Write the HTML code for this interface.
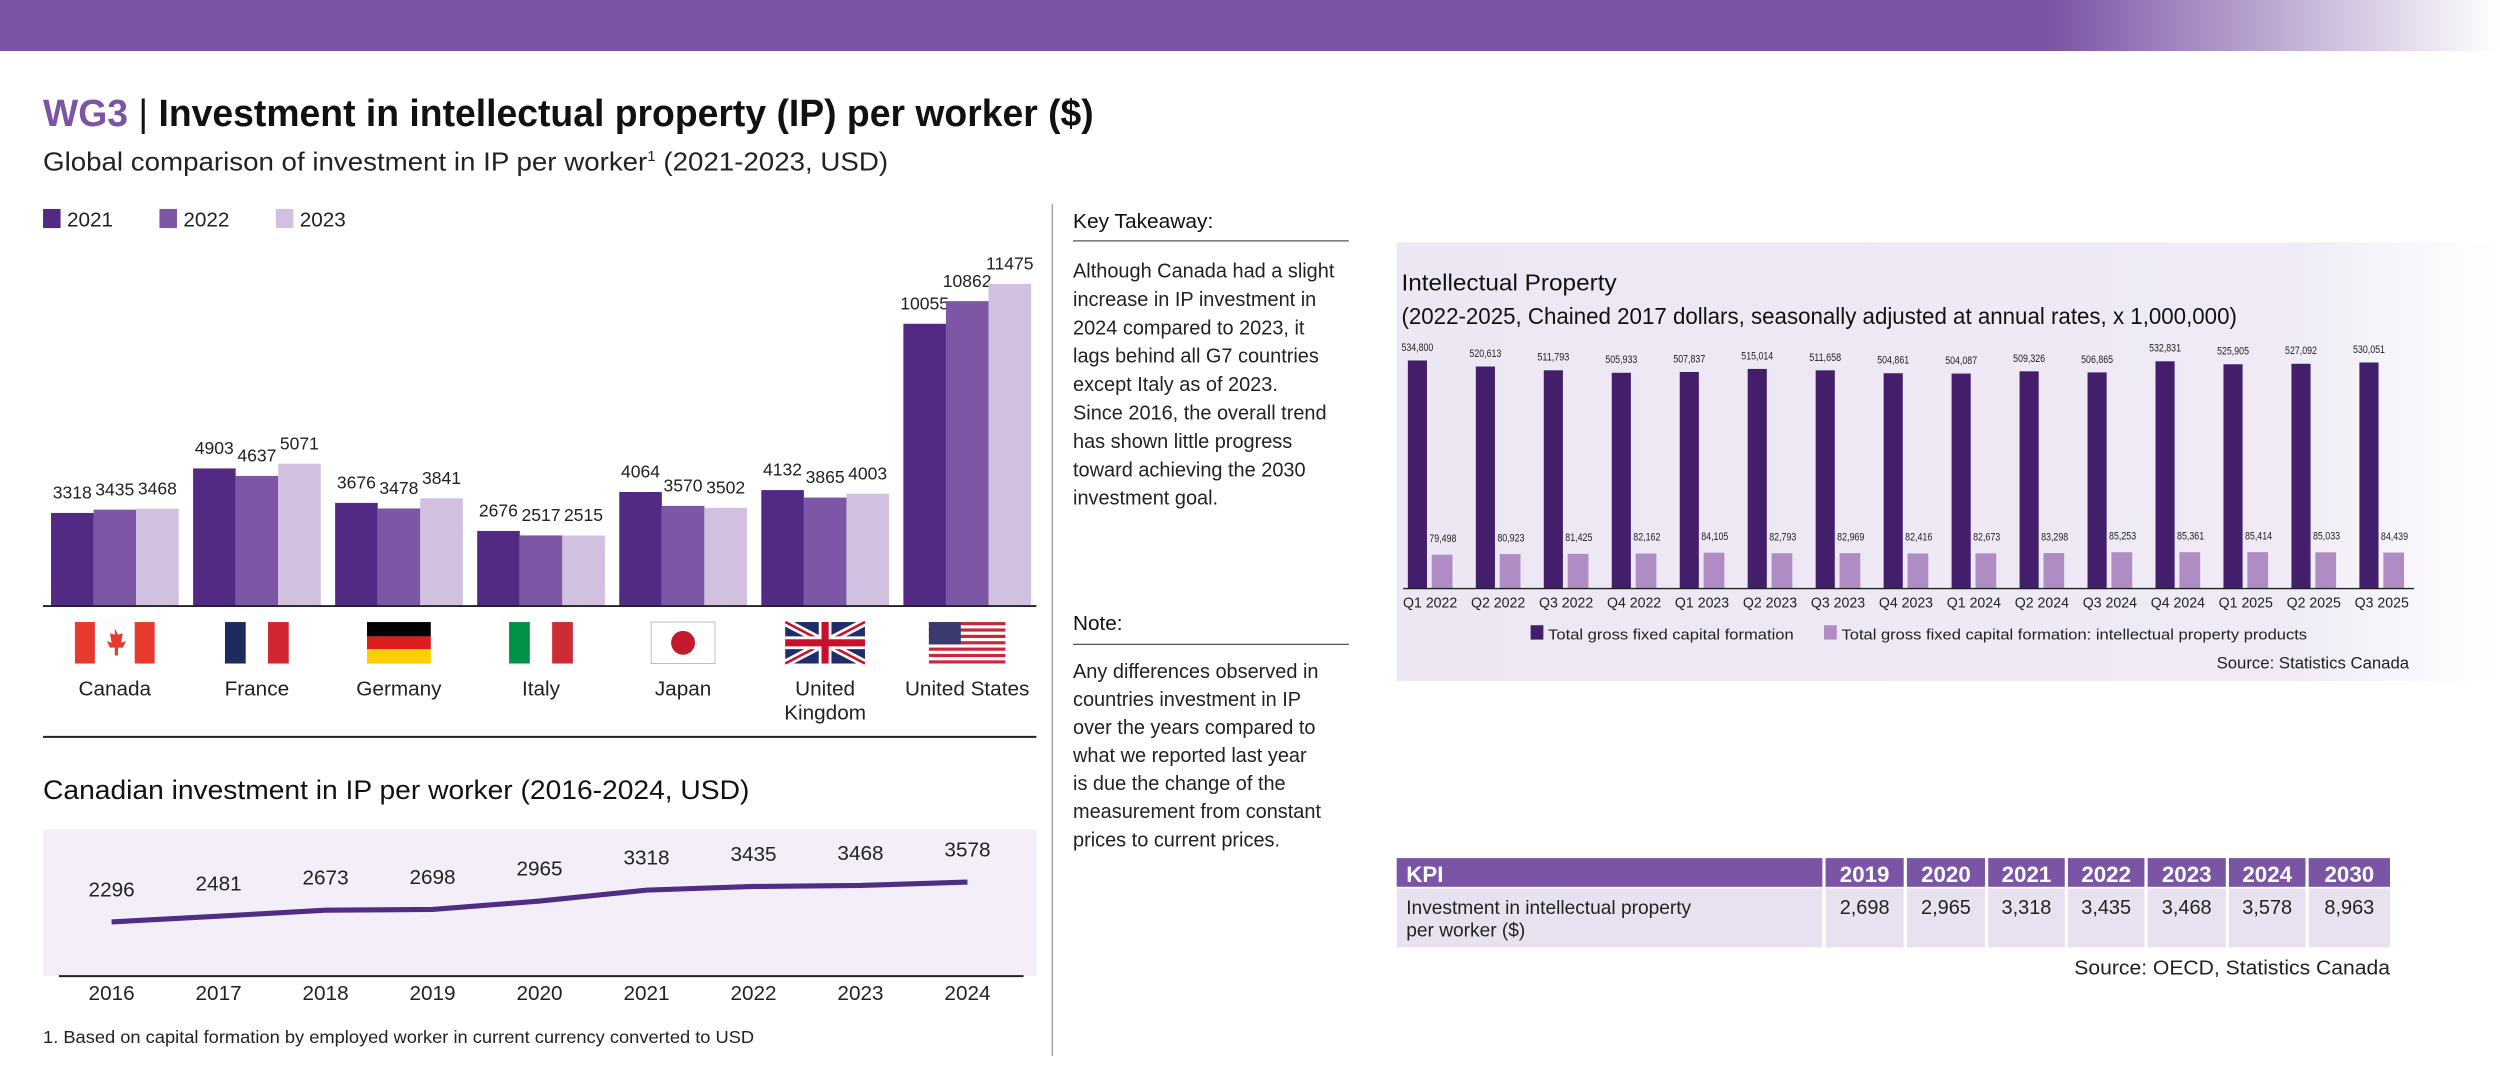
<!DOCTYPE html>
<html><head><meta charset="utf-8">
<style>
html,body{margin:0;padding:0;background:#fff;}
body{width:2500px;height:1083px;overflow:hidden;}
svg{display:block;font-family:"Liberation Sans",sans-serif;}
</style></head>
<body>
<svg id="page" width="2500" height="1083" viewBox="0 0 1568 679" preserveAspectRatio="none" xmlns="http://www.w3.org/2000/svg">
<defs>
<linearGradient id="topfade" x1="0" x2="1" y1="0" y2="0">
<stop offset="0" stop-color="#7b55a5"/><stop offset="0.82" stop-color="#7b55a5"/><stop offset="1" stop-color="#ffffff"/>
</linearGradient>
<linearGradient id="panelfade" x1="0" x2="1" y1="0" y2="0">
<stop offset="0" stop-color="#ede7f3"/><stop offset="0.8" stop-color="#efeaf5"/><stop offset="1" stop-color="#ffffff"/>
</linearGradient>
</defs>
<rect x="0" y="0" width="1568" height="32" fill="url(#topfade)"/>

<g>
<text x="27" y="79" font-size="24" font-weight="bold" textLength="659" lengthAdjust="spacingAndGlyphs"><tspan fill="#7b55a5">WG3</tspan><tspan fill="#111" font-weight="normal"> | </tspan><tspan fill="#111">Investment in intellectual property (IP) per worker ($)</tspan></text>
</g>
<text x="27" y="107" font-size="16.5" fill="#222" textLength="530" lengthAdjust="spacingAndGlyphs">Global comparison of investment in IP per worker<tspan font-size="9" dy="-6">1</tspan><tspan dy="6"> (2021-2023, USD)</tspan></text>

<g id="legend1"></g>
<g id="barchart"></g>
<g id="flags"></g>
<line x1="27" y1="462" x2="650" y2="462" stroke="#222" stroke-width="1.2"/>

<text x="27" y="501" font-size="17" fill="#111" textLength="443" lengthAdjust="spacingAndGlyphs">Canadian investment in IP per worker (2016-2024, USD)</text>
<rect x="27" y="520" width="623" height="92" fill="#f3eef8"/>
<g id="linechart"></g>
<text x="27" y="654" font-size="11" fill="#222" textLength="446" lengthAdjust="spacingAndGlyphs">1. Based on capital formation by employed worker in current currency converted to USD</text>

<line x1="660" y1="128" x2="660" y2="662" stroke="#999" stroke-width="0.8"/>

<g>
<text x="673" y="143" font-size="13" fill="#111" textLength="88" lengthAdjust="spacingAndGlyphs">Key Takeaway:</text>
<line x1="673" y1="151" x2="846" y2="151" stroke="#555" stroke-width="0.8"/>
<g id="kt" font-size="12.5" fill="#222"></g>
</g>
<g>
<text x="673" y="395" font-size="13" fill="#111">Note:</text>
<line x1="673" y1="404" x2="846" y2="404" stroke="#555" stroke-width="0.8"/>
<g id="nt" font-size="12.5" fill="#222"></g>
</g>

<rect x="876" y="152" width="692" height="275" fill="url(#panelfade)"/>
<text x="879" y="182" font-size="14.5" fill="#111" textLength="135" lengthAdjust="spacingAndGlyphs">Intellectual Property</text>
<text x="879" y="203" font-size="14.5" fill="#111" textLength="524" lengthAdjust="spacingAndGlyphs">(2022-2025, Chained 2017 dollars, seasonally adjusted at annual rates, x 1,000,000)</text>
<g id="ipchart"></g>
<g>
<rect x="960" y="392" width="8" height="9" fill="#431f6b"/>
<text x="971" y="401" font-size="9.5" fill="#222" textLength="154" lengthAdjust="spacingAndGlyphs">Total gross fixed capital formation</text>
<rect x="1144" y="392" width="8" height="9" fill="#b08cc5"/>
<text x="1155" y="401" font-size="9.5" fill="#222" textLength="292" lengthAdjust="spacingAndGlyphs">Total gross fixed capital formation: intellectual property products</text>
</g>
<text x="1511" y="419" font-size="10.5" fill="#222" text-anchor="end">Source: Statistics Canada</text>

<g id="kpitable"></g>
<text x="1499" y="611" font-size="13" fill="#222" text-anchor="end" textLength="198" lengthAdjust="spacingAndGlyphs">Source: OECD, Statistics Canada</text>
</svg>

<script>
const NS = "http://www.w3.org/2000/svg";
// ---- G7 bar chart data ----
const countries = ["Canada","France","Germany","Italy","Japan","United Kingdom","United States"];
const years = ["2021","2022","2023"];
const values2021 = [3318,4903,3676,2676,4064,4132,10055];
const values2022 = [3435,4637,3478,2517,3570,3865,10862];
const values2023 = [3468,5071,3841,2515,3502,4003,11475];
// ---- Canada line data ----
const lineYears = ["2016","2017","2018","2019","2020","2021","2022","2023","2024"];
const lineValues = [2296,2481,2673,2698,2965,3318,3435,3468,3578];
// ---- IP quarterly data ----
const quarters = ["Q1 2022","Q2 2022","Q3 2022","Q4 2022","Q1 2023","Q2 2023","Q3 2023","Q4 2023","Q1 2024","Q2 2024","Q3 2024","Q4 2024","Q1 2025","Q2 2025","Q3 2025"];
const totalGFCF = [534800,520613,511793,505933,507837,515014,511658,504861,504087,509326,506865,532831,525905,527092,530051];
const ipProducts = [79498,80923,81425,82162,84105,82793,82969,82416,82673,83298,85253,85361,85414,85033,84439];
// ---- KPI table ----
const kpiYears = ["2019","2020","2021","2022","2023","2024","2030"];
const kpiValues = ["2,698","2,965","3,318","3,435","3,468","3,578","8,963"];

function mk(parent, tag, attrs, txt){
  const e = document.createElementNS(NS, tag);
  for (const k in attrs) e.setAttribute(k, attrs[k]);
  if (txt !== undefined) e.textContent = txt;
  parent.appendChild(e);
  return e;
}
const colors = ["#522a84","#7d56a6","#d2c0e0"];

// legend
const lg = document.getElementById("legend1");
years.forEach((y,i)=>{
  const g = mk(lg,"g",{});
  
  
  mk(g,"rect",{x:27+i*73,y:131,width:11,height:12,fill:colors[i]});
  mk(g,"text",{x:42+i*73,y:142,"font-size":13,fill:"#222"},y);
});

// bar chart
const bc = document.getElementById("barchart");
const baseY = 380, kY = 202/11475;
const yB = v => baseY - v*kY;
const xC = i => 72 + i*89.1;
const series = [values2021, values2022, values2023];
countries.forEach((c,i)=>{
  series.forEach((s,j)=>{
    const x = xC(i) - 40 + j*26.7;
    const r = mk(bc,"rect",{x:x,y:yB(s[i]),width:26.7,height:baseY-yB(s[i]),fill:colors[j]});
    
    
    const t = mk(bc,"text",{x:x+13.3,y:yB(s[i])-9,"font-size":11,fill:"#222","text-anchor":"middle"},String(s[i]));
    
    
  });
});
const ax = mk(bc,"line",{x1:27,y1:baseY,x2:650,y2:baseY,stroke:"#222","stroke-width":1.2});



// flags
const fl = document.getElementById("flags");
function flag(i){
  const cx = xC(i), g = mk(fl,"g",{});
  
  
  const w = i===0||i===5?50:(i===6?48:40), h=26, x=cx-w/2, y=390;
  const R="#e63a2e", B="#1f2b5c";
  if(i===0){mk(g,"rect",{x,y,width:w,height:h,fill:R});mk(g,"rect",{x:x+12.5,y,width:25,height:h,fill:"#fff"});
    mk(g,"path",{d:`M${cx} ${y+4} l2 4 3-1 -1 6 3-1 -2 4 -3 0 0 5 -2 0 0-5 -3 0 -2-4 3 1 -1-6 3 1z`,fill:R});}
  if(i===1){mk(g,"rect",{x,y,width:w,height:h,fill:"#fff"});mk(g,"rect",{x,y,width:13,height:h,fill:B});mk(g,"rect",{x:x+27,y,width:13,height:h,fill:"#d22630"});}
  if(i===2){mk(g,"rect",{x,y,width:w,height:9,fill:"#000"});mk(g,"rect",{x,y:y+9,width:w,height:8,fill:"#dd1d1d"});mk(g,"rect",{x,y:y+17,width:w,height:9,fill:"#ffce00"});}
  if(i===3){mk(g,"rect",{x,y,width:w,height:h,fill:"#fff"});mk(g,"rect",{x,y,width:13,height:h,fill:"#009246"});mk(g,"rect",{x:x+27,y,width:13,height:h,fill:"#ce2b37"});}
  if(i===4){mk(g,"rect",{x,y,width:w,height:h,fill:"#fff",stroke:"#bbb","stroke-width":0.6});mk(g,"circle",{cx,cy:y+13,r:7.5,fill:"#c4182b"});}
  if(i===5){mk(g,"rect",{x,y,width:w,height:h,fill:"#1f2d6b"});
    mk(g,"path",{d:`M${x} ${y} L${x+w} ${y+h} M${x+w} ${y} L${x} ${y+h}`,stroke:"#fff","stroke-width":5});
    mk(g,"path",{d:`M${x} ${y} L${x+w} ${y+h} M${x+w} ${y} L${x} ${y+h}`,stroke:"#c8102e","stroke-width":1.6});
    mk(g,"path",{d:`M${cx} ${y} V${y+h} M${x} ${y+13} H${x+w}`,stroke:"#fff","stroke-width":8});
    mk(g,"path",{d:`M${cx} ${y} V${y+h} M${x} ${y+13} H${x+w}`,stroke:"#c8102e","stroke-width":4.5});}
  if(i===6){mk(g,"rect",{x,y,width:w,height:h,fill:"#fff"});
    for(let k=0;k<7;k++) mk(g,"rect",{x,y:y+k*26/6.5,width:w,height:2,fill:"#c8283a"});
    mk(g,"rect",{x,y,width:20,height:14,fill:"#3c3b6e"});}
}
countries.forEach((c,i)=>{
  flag(i);
  const parts = c==="United Kingdom"?["United","Kingdom"]:[c];
  parts.forEach((p,k)=>{
    const t = mk(fl,"text",{x:xC(i),y:436+k*15,"font-size":13,fill:"#222","text-anchor":"middle"},p);
    
    
  });
});

// line chart
const lc = document.getElementById("linechart");
const lx = i => 70 + i*67.1;
const ly = v => 578 - (v-2296)*0.0195;
const pts = lineValues.map((v,i)=>lx(i)+","+ly(v)).join(" ");
const pl = mk(lc,"polyline",{points:pts,fill:"none",stroke:"#4f2d84","stroke-width":3.2,"stroke-linejoin":"round"});


lineValues.forEach((v,i)=>{
  const t = mk(lc,"text",{x:lx(i),y:ly(v)-16,"font-size":13,fill:"#222","text-anchor":"middle"},String(v));
  
  
  const y = mk(lc,"text",{x:lx(i),y:627,"font-size":13,fill:"#222","text-anchor":"middle"},lineYears[i]);
  
  
});
const la = mk(lc,"line",{x1:37,y1:612,x2:642,y2:612,stroke:"#222","stroke-width":1.2});



// paragraphs
const ktLines = ["Although Canada had a slight","increase in IP investment in","2024 compared to 2023, it","lags behind all G7 countries","except Italy as of 2023.","Since 2016, the overall trend","has shown little progress","toward achieving the 2030","investment goal."];
const ntLines = ["Any differences observed in","countries investment in IP","over the years compared to","what we reported last year","is due the change of the","measurement from constant","prices to current prices."];
ktLines.forEach((l,i)=>mk(document.getElementById("kt"),"text",{x:673,y:174+i*17.8},l));
ntLines.forEach((l,i)=>mk(document.getElementById("nt"),"text",{x:673,y:425+i*17.6},l));

// IP chart
const ip = document.getElementById("ipchart");
const ipBase = 369, ipK = 143/534800;
const ipY = v => ipBase - v*ipK;
const ipX = i => 883 + i*42.63;
quarters.forEach((q,i)=>{
  const d = mk(ip,"rect",{x:ipX(i),y:ipY(totalGFCF[i]),width:12,height:ipBase-ipY(totalGFCF[i]),fill:"#431f6b"});
  
  
  const l = mk(ip,"rect",{x:ipX(i)+15,y:ipY(ipProducts[i]),width:13,height:ipBase-ipY(ipProducts[i]),fill:"#b08cc5"});
  
  
  const t1 = mk(ip,"text",{x:ipX(i)+6,y:ipY(totalGFCF[i])-6,"font-size":7,fill:"#222","text-anchor":"middle",textLength:20,lengthAdjust:"spacingAndGlyphs"},totalGFCF[i].toLocaleString("en-US"));
  
  
  const t2 = mk(ip,"text",{x:ipX(i)+22,y:ipY(ipProducts[i])-8,"font-size":7,fill:"#222","text-anchor":"middle",textLength:17,lengthAdjust:"spacingAndGlyphs"},ipProducts[i].toLocaleString("en-US"));
  
  
  const tq = mk(ip,"text",{x:ipX(i)+14,y:381,"font-size":9,fill:"#222","text-anchor":"middle",textLength:34,lengthAdjust:"spacingAndGlyphs"},q);
  
  
});
const ipAx = mk(ip,"line",{x1:880,y1:ipBase,x2:1514,y2:ipBase,stroke:"#222","stroke-width":0.8});



// KPI table
const kt = document.getElementById("kpitable");
const colX = [876,1145,1196,1247,1297,1347,1398,1448], colE=[1143,1194,1245,1295,1345,1396,1446,1499];
for(let c=0;c<8;c++){
  const hx = colX[c], w = colE[c]-colX[c];
  mk(kt,"rect",{x:hx,y:538,width:w,height:18,fill:"#7b55a5"});
  mk(kt,"rect",{x:hx,y:557,width:w,height:37,fill:"#e8e2f0"});
  if(c===0){
    mk(kt,"text",{x:882,y:553,"font-size":14,"font-weight":"bold",fill:"#fff"},"KPI");
    mk(kt,"text",{x:882,y:573,"font-size":12,fill:"#222"},"Investment in intellectual property");
    mk(kt,"text",{x:882,y:587,"font-size":12,fill:"#222"},"per worker ($)");
  } else {
    const h = mk(kt,"text",{x:hx+w/2,y:553,"font-size":14,"font-weight":"bold",fill:"#fff","text-anchor":"middle"},kpiYears[c-1]);
    
    
    const v = mk(kt,"text",{x:hx+w/2,y:573,"font-size":12.5,fill:"#222","text-anchor":"middle"},kpiValues[c-1]);
    
    
  }
}
</script>
</body></html>
